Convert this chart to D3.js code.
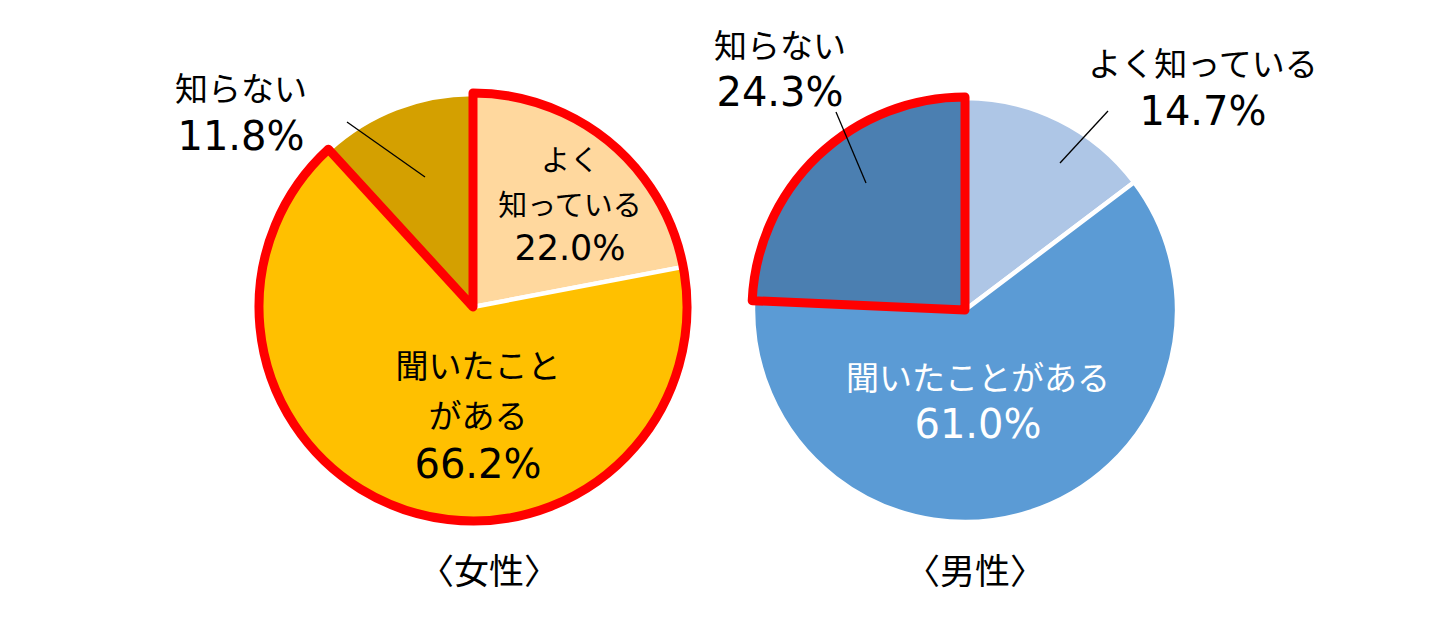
<!DOCTYPE html>
<html>
<head>
<meta charset="utf-8">
<script src="https://cdn.jsdelivr.net/npm/d3@7"></script>
<style>
  html, body { margin: 0; padding: 0; background: #fff; }
  svg { display: block; }
</style>
</head>
<body>
<svg id="chart" width="1437" height="618"></svg>
<script>
// ---- data ----
const categories = ["よく知っている", "聞いたことがある", "知らない"];
const femaleValues = [22.0, 66.2, 11.8];
const maleValues = [14.7, 61.0, 24.3];
const groupNames = ["〈女性〉", "〈男性〉"];

// ---- style / layout ----
const femaleColors = ["#FFD89E", "#FFC000", "#D4A000"];
const maleColors = ["#AEC6E6", "#5B9BD5", "#4B7FB1"];
const KANA_FONT = "'Noto Sans CJK JP', 'DejaVu Sans', sans-serif";
const NUM_FONT = "'DejaVu Sans', 'Noto Sans CJK JP', sans-serif";
const SIZES = { big: { kana: 33, num: 40 }, small: { kana: 29, num: 35 } };

const pies = [
  {
    values: femaleValues, colors: femaleColors, title: groupNames[0],
    cx: 473, cy: 307, r: 213, highlight: [0, 1], titleDx: 16, titleY: 584,
    labels: [
      { breaks: [2], dx: 97, dy: -136, lh: 44.5, size: "small", color: "#000" },
      { breaks: [5], dx: 5, dy: 71, lh: 50, size: "big", color: "#000" },
      { breaks: [], dx: -232, dy: -206, lh: 49, size: "big", color: "#000", leader: [[-126, -185], [-48, -130]] }
    ]
  },
  {
    values: maleValues, colors: maleColors, title: groupNames[1],
    cx: 965, cy: 310, r: 212, highlight: [2], titleDx: 10, titleY: 584,
    labels: [
      { breaks: [], dx: 238, dy: -234, lh: 49, size: "big", color: "#000", leader: [[143, -199], [95, -147]] },
      { breaks: [], dx: 13, dy: 80, lh: 48, size: "big", color: "#fff" },
      { breaks: [], dx: -185, dy: -252, lh: 48, size: "big", color: "#000", leader: [[-129, -198], [-99, -127]] }
    ]
  }
];

const svg = d3.select("#chart");
const fmt = d3.format(".1f");
const pieGen = d3.pie().sort(null).value(d => d);

function splitAt(str, breaks) {
  const out = [];
  let prev = 0;
  breaks.forEach(b => { out.push(str.slice(prev, b)); prev = b; });
  out.push(str.slice(prev));
  return out;
}

pies.forEach(p => {
  const g = svg.append("g").attr("transform", `translate(${p.cx},${p.cy})`);
  const arcs = pieGen(p.values);
  const arc = d3.arc().innerRadius(0).outerRadius(p.r);

  g.selectAll("path.slice")
    .data(arcs)
    .join("path")
    .attr("class", "slice")
    .attr("d", arc)
    .attr("fill", (d, i) => p.colors[i])
    .attr("stroke", "#fff")
    .attr("stroke-width", 4.5)
    .attr("stroke-linejoin", "round");

  // red highlight outline
  const hs = p.highlight.map(i => arcs[i]);
  const hl = {
    startAngle: d3.min(hs, d => d.startAngle),
    endAngle: d3.max(hs, d => d.endAngle)
  };
  g.append("path")
    .attr("d", d3.arc().innerRadius(0).outerRadius(p.r + 1)(hl))
    .attr("fill", "none")
    .attr("stroke", "#FF0000")
    .attr("stroke-width", 9)
    .attr("stroke-linejoin", "round");

  // labels
  arcs.forEach((a, i) => {
    const L = p.labels[i];
    const sz = SIZES[L.size];
    if (L.leader) {
      g.append("line")
        .attr("x1", L.leader[0][0]).attr("y1", L.leader[0][1])
        .attr("x2", L.leader[1][0]).attr("y2", L.leader[1][1])
        .attr("stroke", "#000").attr("stroke-width", 1.3);
    }
    const lines = splitAt(categories[i], L.breaks);
    lines.forEach((t, k) => {
      g.append("text")
        .attr("x", L.dx).attr("y", L.dy + k * L.lh)
        .attr("text-anchor", "middle")
        .attr("font-family", KANA_FONT)
        .attr("font-size", sz.kana)
        .attr("fill", L.color)
        .text(t);
    });
    g.append("text")
      .attr("x", L.dx).attr("y", L.dy + lines.length * L.lh)
      .attr("text-anchor", "middle")
      .attr("font-family", NUM_FONT)
      .attr("font-size", sz.num)
      .attr("fill", L.color)
      .text(fmt(p.values[i]) + "%");
  });

  // group title
  svg.append("text")
    .attr("x", p.cx + p.titleDx).attr("y", p.titleY)
    .attr("text-anchor", "middle")
    .attr("font-family", KANA_FONT)
    .attr("font-size", 35)
    .attr("fill", "#000")
    .text(p.title);
});
</script>
</body>
</html>
